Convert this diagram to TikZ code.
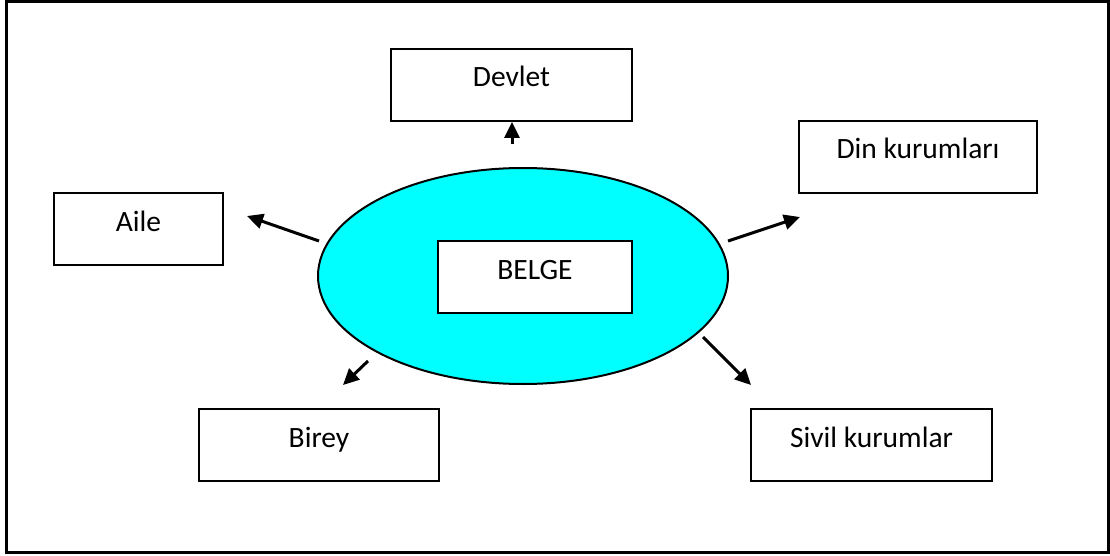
\documentclass[tikz,border=0pt]{standalone}
\usepackage{fontspec}
\setmainfont{Carlito}
\usetikzlibrary{arrows.meta,shapes.geometric}
\definecolor{belgecyan}{RGB}{0,255,255}
\tikzset{
  box/.style={draw=black, line width=2pt, fill=white, rectangle, inner sep=0pt,
    text height=38pt, text depth=34pt, font=\fontsize{29.5}{32}\selectfont},
  hub/.style={draw=black, line width=2pt, fill=belgecyan, ellipse, inner sep=0pt,
    minimum width=410pt, minimum height=216pt},
  link/.style={line width=3pt, -{Triangle[length=16pt,width=15pt]}},
}
\begin{document}
\begin{tikzpicture}[x=1pt,y=-1pt]
  \useasboundingbox (0,0) rectangle (1110,556);
  % outer frame
  \draw[line width=3pt] (6,1.5) rectangle (1108,552.5);

  % central ellipse with its label box
  \node[hub] (hub) at (523,276) {};
  \node[box, minimum width=194pt] (belge) at (535,277) {BELGE};

  % surrounding boxes
  \node[box, minimum width=241pt] (devlet) at (511.5,85) {Devlet};
  \node[box, minimum width=169pt] (aile)   at (138.5,229) {Aile};
  \node[box, minimum width=238pt] (din)    at (918,157) {Din kurumları};
  \node[box, minimum width=240pt] (birey)  at (319,445) {Birey};
  \node[box, minimum width=241pt] (sivil)  at (871.5,445) {Sivil kurumlar};

  % arrow ends
  \coordinate (dA) at (512,144);  \coordinate (dB) at (512,122);
  \coordinate (aA) at (319,241);  \coordinate (aB) at (247,216);
  \coordinate (kA) at (728,241);  \coordinate (kB) at (800,217);
  \coordinate (bA) at (368,361);  \coordinate (bB) at (343,385);
  \coordinate (sA) at (703,337);  \coordinate (sB) at (751,385);

  \draw[link] (dA) -- (dB);
  \draw[link] (aA) -- (aB);
  \draw[link] (kA) -- (kB);
  \draw[link] (bA) -- (bB);
  \draw[link] (sA) -- (sB);
\end{tikzpicture}
\end{document}
